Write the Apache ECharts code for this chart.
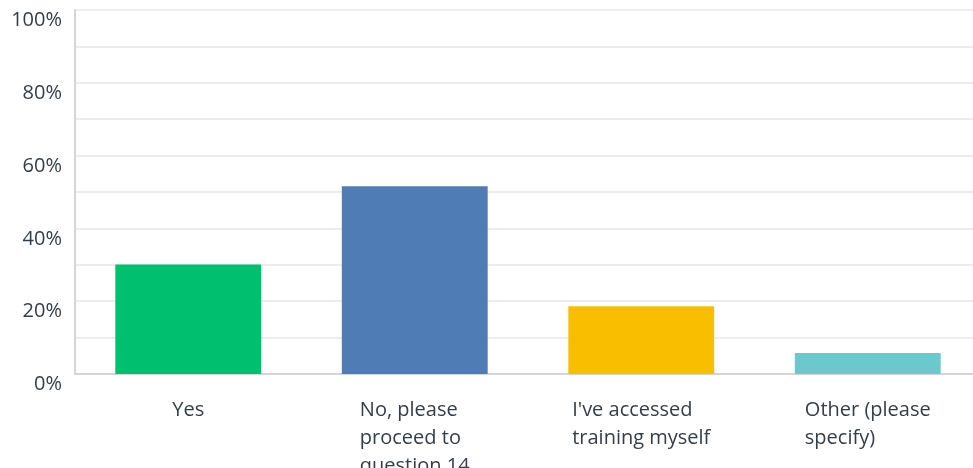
<!DOCTYPE html>
<html>
<head>
<meta charset="utf-8">
<title>Responses</title>
<script src="https://cdn.jsdelivr.net/npm/echarts@6/dist/echarts.min.js"></script>
<style>
  html, body { margin: 0; padding: 0; background: #fff; }
  #chart { width: 973px; height: 468px; }
</style>
</head>
<body>
<div id="chart"></div>
<script>
// answer choices (each line of the label)
var categories = [
  'Yes',
  'No, please\nproceed to\nquestion 14',
  "I've accessed\ntraining myself",
  'Other (please\nspecify)'
];
// share of respondents, percent
var values = [30.1, 51.6, 18.6, 5.8];
var barColors = ['#00bf6f', '#507cb6', '#f9be00', '#6bc8cd'];
var yTicks = [0, 20, 40, 60, 80, 100];

var myChart = echarts.init(document.getElementById('chart'));
var textColor = '#333e48';
var font = '"Open Sans"';
var fs = 20;

myChart.setOption({
  animation: false,
  grid: {
    left: 75,
    right: -8,
    top: 10,
    bottom: 94,
    containLabel: false,
    outerBoundsMode: 'none'
  },
  xAxis: {
    type: 'category',
    data: categories,
    axisTick: { show: false },
    axisLine: {
      lineStyle: { color: '#d5d5d5', width: 2 }
    },
    axisLabel: {
      interval: 0,
      margin: 22,
      color: textColor,
      fontFamily: font,
      fontSize: fs,
      lineHeight: 28,
      formatter: function (val) {
        // lines left aligned inside a centred block
        return val.split('\n').map(function (l) { return '{l|' + l + '}'; }).join('\n');
      },
      rich: {
        l: { align: 'left', color: textColor, fontFamily: font, fontSize: fs, lineHeight: 28 }
      }
    }
  },
  yAxis: {
    type: 'value',
    min: 0,
    max: 100,
    interval: 10,
    axisLine: {
      show: true,
      lineStyle: { color: '#d5d5d5', width: 2 }
    },
    axisTick: { show: false },
    splitLine: {
      lineStyle: { color: '#ececec', width: 2 }
    },
    axisLabel: {
      margin: 13,
      color: textColor,
      fontFamily: font,
      fontSize: fs,
      lineHeight: 21,
      verticalAlign: 'top',
      formatter: function (v) {
        return yTicks.indexOf(v) >= 0 ? v + '%' : '';
      }
    }
  },
  series: [{
    type: 'bar',
    barWidth: '64.4%',
    data: values.map(function (v, i) {
      return { value: v, itemStyle: { color: barColors[i] } };
    })
  }]
});
</script>
</body>
</html>
